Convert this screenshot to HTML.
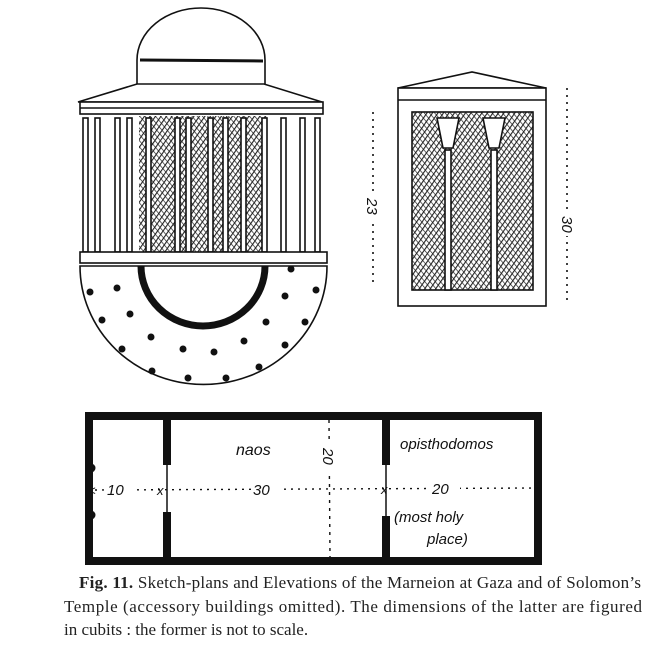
<!DOCTYPE html>
<html><head><meta charset="utf-8"><style>
html,body{margin:0;padding:0;background:#fff;}
svg{display:block}
.cap{font-family:"Liberation Serif",serif;font-size:17px;fill:#222}
.hw{font-family:"Liberation Sans",sans-serif;font-style:italic;fill:#111}
</style></head><body>
<svg width="658" height="647" viewBox="0 0 658 647" xmlns="http://www.w3.org/2000/svg">
<defs>
<pattern id="h" width="4.5" height="4.5" patternUnits="userSpaceOnUse" patternTransform="rotate(35)">
<rect width="5" height="5" fill="#fff"/><line x1="0" y1="0" x2="0" y2="5" stroke="#222" stroke-width="2.2"/></pattern>
<pattern id="h2" width="4" height="4" patternUnits="userSpaceOnUse" patternTransform="rotate(-40)">
<line x1="0" y1="0" x2="0" y2="4" stroke="#222" stroke-width="1.4"/></pattern>
</defs>
<g stroke="#111" fill="none" stroke-width="1.6">
<path d="M137 84 L137 60 A64 52 0 0 1 265 60 L265 84" fill="#fff"/>
<line x1="140" y1="60" x2="263" y2="61" stroke-width="3"/>
<path d="M137 84 L264 84 L322 102 L78 102 Z" fill="#fff"/>
<rect x="80" y="102" width="243" height="12" fill="#fff"/>
<line x1="80" y1="108" x2="323" y2="108"/>
<rect x="139" y="116" width="128" height="136" fill="url(#h)" stroke="none"/>
<rect x="139" y="116" width="128" height="136" fill="url(#h2)" stroke="none"/>
<g fill="#fff">
<rect x="83" y="118" width="5" height="134"/><rect x="95" y="118" width="5" height="134"/>
<rect x="115" y="118" width="5" height="134"/><rect x="127" y="118" width="5" height="134"/>
<rect x="146" y="118" width="5" height="134"/><rect x="175" y="118" width="5" height="134"/>
<rect x="186" y="118" width="5" height="134"/><rect x="208" y="118" width="5" height="134"/>
<rect x="223" y="118" width="5" height="134"/><rect x="241" y="118" width="5" height="134"/>
<rect x="262" y="118" width="5" height="134"/><rect x="281" y="118" width="5" height="134"/>
<rect x="300" y="118" width="5" height="134"/><rect x="315" y="118" width="5" height="134"/>
</g>
<rect x="80" y="252" width="247" height="11" fill="#fff"/>
<path d="M80 266 L327 266 A123 118 0 0 1 80 266 Z" fill="#fff"/>
<path d="M141 266 A62 60 0 0 0 265 266" stroke-width="7"/>
</g>
<g fill="#111">
<circle cx="90" cy="292" r="3.5"/><circle cx="117" cy="288" r="3.5"/><circle cx="102" cy="320" r="3.5"/>
<circle cx="130" cy="314" r="3.5"/><circle cx="151" cy="337" r="3.5"/><circle cx="122" cy="349" r="3.5"/>
<circle cx="183" cy="349" r="3.5"/><circle cx="214" cy="352" r="3.5"/><circle cx="244" cy="341" r="3.5"/>
<circle cx="152" cy="371" r="3.5"/><circle cx="188" cy="378" r="3.5"/><circle cx="226" cy="378" r="3.5"/>
<circle cx="259" cy="367" r="3.5"/><circle cx="285" cy="345" r="3.5"/><circle cx="305" cy="322" r="3.5"/>
<circle cx="266" cy="322" r="3.5"/><circle cx="285" cy="296" r="3.5"/><circle cx="316" cy="290" r="3.5"/>
<circle cx="291" cy="269" r="3.5"/>
</g>
<g stroke="#111" fill="none" stroke-width="1.6">
<path d="M398 88 L472 72 L546 88 Z" fill="#fff"/>
<rect x="398" y="88" width="148" height="218" fill="#fff"/>
<line x1="398" y1="100" x2="546" y2="100"/>
<rect x="412" y="112" width="121" height="178" fill="url(#h)"/>
<rect x="412" y="112" width="121" height="178" fill="url(#h2)" stroke="none"/>
<rect x="445" y="150" width="6" height="140" fill="#fff"/>
<rect x="491" y="150" width="6" height="140" fill="#fff"/>
<path d="M437 118 L459 118 L453 148 L443 148 Z" fill="#fff"/>
<path d="M483 118 L505 118 L499 148 L489 148 Z" fill="#fff"/>
<line x1="373" y1="112" x2="373" y2="287" stroke-dasharray="2 5"/>
<line x1="567" y1="88" x2="567" y2="300" stroke-dasharray="2 5"/>
</g>
<rect x="364" y="195" width="18" height="24" fill="#fff"/>
<rect x="558" y="212" width="18" height="24" fill="#fff"/>
<text class="hw" font-size="15" transform="translate(367,198) rotate(90)">23</text>
<text class="hw" font-size="15" transform="translate(562,216) rotate(90)">30</text>
<g stroke="#111" fill="none">
<rect x="89" y="416" width="449" height="145" stroke-width="8"/>
<line x1="167" y1="416" x2="167" y2="465" stroke-width="8"/>
<line x1="167" y1="512" x2="167" y2="561" stroke-width="8"/>
<line x1="167" y1="465" x2="167" y2="512" stroke-width="1.5"/>
<line x1="386" y1="416" x2="386" y2="465" stroke-width="8"/>
<line x1="386" y1="516" x2="386" y2="561" stroke-width="8"/>
<line x1="386" y1="465" x2="386" y2="516" stroke-width="1.5"/>
<line x1="95" y1="490" x2="538" y2="488" stroke-width="1.4" stroke-dasharray="2 5"/>
<line x1="329" y1="420" x2="330" y2="557" stroke-width="1.4" stroke-dasharray="3 5"/>
</g>
<g fill="#111"><circle cx="91" cy="468" r="4.5"/><circle cx="91" cy="515" r="4.5"/></g>
<rect x="106" y="482" width="28" height="16" fill="#fff"/>
<rect x="252" y="480" width="30" height="16" fill="#fff"/>
<rect x="430" y="480" width="30" height="16" fill="#fff"/>
<text class="hw" font-size="15" x="107" y="495">10</text>
<text class="hw" font-size="15" x="253" y="495">30</text>
<text class="hw" font-size="15" x="432" y="494">20</text>
<text class="hw" font-size="13" x="157" y="495">x</text>
<text class="hw" font-size="13" x="381" y="494">x</text>
<text class="hw" font-size="13" x="88" y="495">&lt;</text>
<text class="hw" font-size="16" x="236" y="455">naos</text>
<rect x="319" y="440" width="20" height="32" fill="#fff"/>
<text class="hw" font-size="15" transform="translate(323,448) rotate(90)">20</text>
<text class="hw" font-size="15" x="400" y="449">opisthodomos</text>
<text class="hw" font-size="15" x="394" y="522">(most holy</text>
<text class="hw" font-size="15" x="427" y="544">place)</text>
<text class="cap" x="79" y="588" textLength="562" lengthAdjust="spacing"><tspan font-weight="bold">Fig. 11.</tspan>  Sketch-plans and Elevations of the Marneion at Gaza and of Solomon’s</text>
<text class="cap" x="64" y="612" textLength="578" lengthAdjust="spacing">Temple (accessory buildings omitted).    The dimensions of the latter are figured</text>
<text class="cap" x="64" y="635">in cubits : the former is not to scale.</text>
</svg>
</body></html>
